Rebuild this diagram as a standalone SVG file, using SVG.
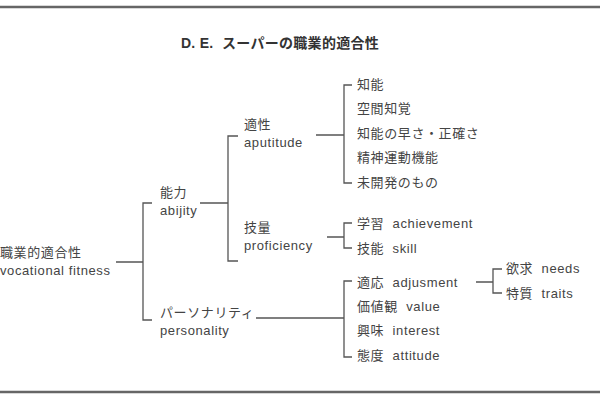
<svg xmlns="http://www.w3.org/2000/svg" width="600" height="400" viewBox="0 0 600 400">
<style>
text{font-family:"Liberation Sans","Noto Sans CJK JP",sans-serif;font-size:13px;letter-spacing:0.6px;fill:#444;white-space:pre}
.t{font-size:14px;font-weight:bold;fill:#333;letter-spacing:0.3px}
.c path{fill:none;stroke:#555;stroke-width:1.3}
.f{stroke:#666;stroke-width:2.5}
</style>
<rect width="600" height="400" fill="#fff"/>
<line class="f" x1="0" y1="7" x2="600" y2="7"/>
<line class="f" x1="0" y1="392" x2="600" y2="392"/>
<text class="t" x="280" y="48" text-anchor="middle">D. E.  スーパーの職業的適合性</text>
<g class="c">
<path d="M116 262H143M152 203H143V320H152"/>
<path d="M200 203H228M238 136H228V261H238"/>
<path d="M316 135H344M352 85H344V183H352"/>
<path d="M327 237H344M352 223H344V248H352"/>
<path d="M256 318H344M352 281H344V357H352"/>
<path d="M476 282H493M502 269H493V293H502"/>
</g>
<g id="root"><text x="0" y="257">職業的適合性</text><text x="0" y="275">vocational fitness</text></g>
<g id="ability"><text x="160" y="197">能力</text><text x="160" y="215">abijity</text></g>
<g id="personality"><text x="160" y="317">パーソナリティ</text><text x="160" y="335">personality</text></g>
<g id="aptitude"><text x="244" y="129">適性</text><text x="244" y="147">aputitude</text></g>
<g id="proficiency"><text x="244" y="232">技量</text><text x="244" y="250">proficiency</text></g>
<g id="apt-items">
<text x="357" y="89">知能</text><text x="357" y="113">空間知覚</text><text x="357" y="138">知能の早さ・正確さ</text><text x="357" y="162">精神運動機能</text><text x="357" y="187">未開発のもの</text></g>
<g id="prof-items"><text x="357" y="228">学習  achievement</text><text x="357" y="253">技能  skill</text></g>
<g id="pers-items"><text x="357" y="287">適応  adjusment</text><text x="357" y="311">価値観  value</text><text x="357" y="335">興味  interest</text><text x="357" y="360">態度  attitude</text></g>
<g id="adj-items"><text x="506" y="273">欲求  needs</text><text x="506" y="298">特質  traits</text></g>
</svg>
